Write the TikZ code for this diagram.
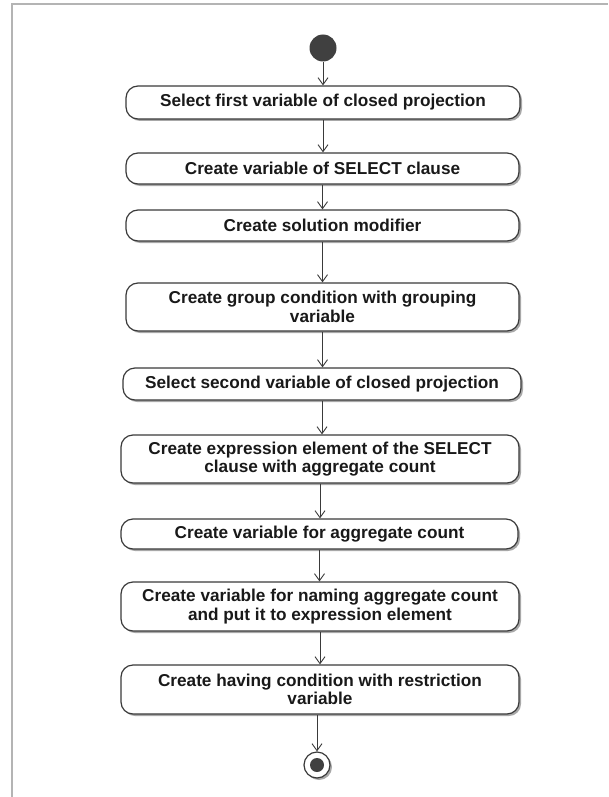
\documentclass[tikz,border=0pt]{standalone}
\usepackage{fontspec}
\setmainfont{Liberation Sans}
\usetikzlibrary{arrows.meta,shadows}

\definecolor{inkline}{HTML}{3A3A3A}
\definecolor{inkdot}{HTML}{404040}
\definecolor{frameline}{HTML}{B4B4B4}
\definecolor{shade}{HTML}{A8A8A8}

\tikzset{
  act/.style={draw=inkline, line width=1.2pt, fill=white, rounded corners=12pt,
    align=center, inner sep=0pt, text=black!90,
    font=\fontsize{17.2}{18.5}\selectfont\bfseries,
    drop shadow={shadow xshift=2pt, shadow yshift=-2pt, fill=shade, opacity=1}},
  flow/.style={draw=inkline, line width=0.9pt,
    -{Straight Barb[length=7pt,width=10pt,line width=0.9pt]}},
  startdot/.style={circle, fill=inkdot, minimum size=27pt, inner sep=0pt},
  endring/.style={circle, draw=inkline, line width=1.2pt, fill=white, minimum size=26pt, inner sep=0pt,
    drop shadow={shadow xshift=2pt, shadow yshift=-2pt, fill=shade, opacity=1}},
  enddot/.style={circle, fill=inkdot, minimum size=14pt, inner sep=0pt}
}

\begin{document}
\begin{tikzpicture}[x=1pt,y=-1pt]
  \useasboundingbox (0,0) rectangle (608,797);
  % open frame along the top and left
  \draw[frameline, line width=1.5pt] (12,797) -- (12,4) -- (608,4);

  \node[startdot] (init) at (323,48) {};

  \node[act, minimum width=394, minimum height=33] (s1) at (323,102.5)
    {Select first variable of closed projection};
  \node[act, minimum width=393, minimum height=31] (s2) at (322.5,168.5)
    {Create variable of SELECT clause};
  \node[act, minimum width=393, minimum height=31] (s3) at (322.5,225.5)
    {Create solution modifier};
  \node[act, minimum width=393, minimum height=48] (s4) at (322.5,307)
    {Create group condition with grouping\\variable};
  \node[act, minimum width=398, minimum height=32] (s5) at (322,384)
    {Select second variable of closed projection};
  \node[act, minimum width=398, minimum height=48] (s6) at (320,459)
    {Create expression element of the SELECT\\clause with aggregate count};
  \node[act, minimum width=397, minimum height=30] (s7) at (319.5,534)
    {Create variable for aggregate count};
  \node[act, minimum width=398, minimum height=49] (s8) at (320,606.5)
    {Create variable for naming aggregate count\\and put it to expression element};
  \node[act, minimum width=398, minimum height=49] (s9) at (320,689.5)
    {Create having condition with restriction\\variable};

  \node[endring] (fin) at (317,765) {};
  \node[enddot] (finc) at (fin) {};

  \draw[flow] (init) -- (init |- s1.north);
  \draw[flow] (s1) -- (s1 |- s2.north);
  \draw[flow] (s2) -- (s2 |- s3.north);
  \draw[flow] (s3) -- (s3 |- s4.north);
  \draw[flow] (s4) -- (s4 |- s5.north);
  \draw[flow] (s5) -- (s5 |- s6.north);
  \draw[flow] (s6) -- (s6 |- s7.north);
  \draw[flow] (s7) -- (s7 |- s8.north);
  \draw[flow] (s8) -- (s8 |- s9.north);
  \draw[flow] (s9.south -| fin) -- (fin);
\end{tikzpicture}
\end{document}
